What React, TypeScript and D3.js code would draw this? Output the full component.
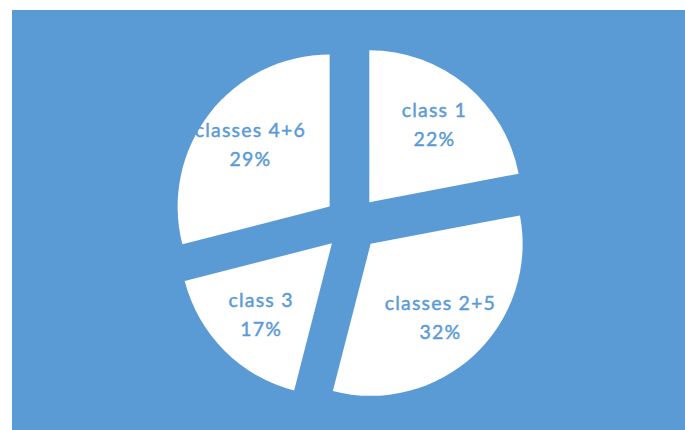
import React from "react";
import * as d3 from "d3";

const categories = ["class 1", "classes 2+5", "class 3", "classes 4+6"];
const values = [22, 32, 17, 29];
const percentLabels = ["22%", "32%", "17%", "29%"];

const W = 685;
const H = 430;
const BLUE = "#5B9BD5";

export default function App() {
  const cx = 351.6;
  const cy = 223.6;
  const r = 152;
  const explode = 27.8;
  const labelRatio = 0.665;
  const lineGap = 29.4;

  const pie = d3.pie<number>().sort(null).value((d) => d)(values);
  const arc = d3.arc<d3.PieArcDatum<number>>().innerRadius(0).outerRadius(r);

  const textStyle = {
    fontFamily: "Lato, 'Open Sans', sans-serif",
    fontSize: "19.5px",
    letterSpacing: "1.2px",
  };

  return (
    <svg
      width={W}
      height={H}
      style={{ position: "absolute", left: 0, top: 0, display: "block" }}
    >
      <rect x={0} y={0} width={W} height={H} fill="#ffffff" />
      <rect x={12} y={10} width={W - 12} height={H - 10} fill={BLUE} />
      {pie.map((p, i) => {
        const mid = (p.startAngle + p.endAngle) / 2;
        const dx = Math.sin(mid) * explode;
        const dy = -Math.cos(mid) * explode;
        const lx = Math.sin(mid) * r * labelRatio + 0.6;
        const ly = -Math.cos(mid) * r * labelRatio + 2;
        const b1 = ly - 9.7;
        return (
          <g key={i} transform={`translate(${cx + dx},${cy + dy})`}>
            <path d={arc(p) || ""} fill="#ffffff" />
            <g
              fill={BLUE}
              stroke={BLUE}
              strokeWidth={0.45}
              textAnchor="middle"
              style={textStyle}
            >
              <text x={lx} y={b1}>{categories[i]}</text>
              <text x={lx} y={b1 + lineGap}>{percentLabels[i]}</text>
            </g>
          </g>
        );
      })}
    </svg>
  );
}
